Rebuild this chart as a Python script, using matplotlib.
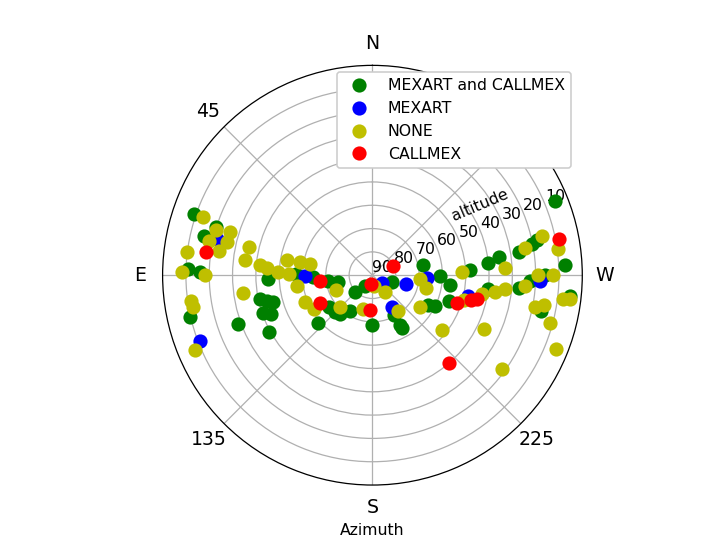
import numpy as np
import matplotlib
matplotlib.use("Agg")
import matplotlib.pyplot as plt

# azimuth (deg) and altitude (deg) of each source, grouped by detection
green_az = [71, 77, 73, 88, 89, 92, 102, 104, 105, 109, 111, 110, 119, 103, 89, 92, 97, 101,
            133, 144, 251, 126, 135, 140, 148, 131, 179, 208, 209, 209, 281, 269, 263, 273,
            276, 278, 242, 244, 251, 263, 292, 282, 281, 279, 273, 270, 265, 268, 264, 258]
green_alt = [9, 16, 20, 11, 16, 45, 40.5, 43.5, 46, 40.5, 43.5, 28.5, 39.5, 9.5, 57, 64.5, 71, 75,
             79.5, 84.5, 81, 67, 67.5, 68.5, 72, 59, 68.5, 70.5, 65.5, 64, 68, 61, 56.5, 48,
             40, 35, 63, 60, 55.5, 40, 5.5, 18, 20.5, 26.5, 7.5, 16, 27, 22.5, 5, 16]

blue_az = [77, 111, 91, 231, 256, 267, 211, 258, 268]
blue_alt = [21.5, 11, 61, 85, 75, 66.5, 74, 48, 18]

yellow_az = [71, 74, 73, 78, 77, 81, 83, 77, 83, 89, 90, 85, 86, 88, 80, 80, 80, 89, 98, 98,
             100, 113, 98, 112, 186, 217, 265, 257, 112, 120, 135, 165, 215, 272, 273, 236,
             255, 260, 262, 264, 232, 244, 234, 278, 283, 280, 270, 270, 266, 263, 263, 259,
             260, 255, 248]
yellow_alt = [13, 20, 26, 18.5, 26, 23.5, 10, 35.5, 35, 8.5, 18, 41.5, 44.5, 49.5, 53, 58.5, 63,
              54, 34, 11.5, 12, 7.5, 57.5, 73, 85.5, 81, 69.5, 66.5, 59, 61, 70.5, 75, 71, 51.5,
              33, 65.5, 49.5, 42.5, 37, 33, 52, 37, 21.5, 9.5, 15.5, 23.5, 19, 12.5, 24.5, 7.5,
              4.5, 19, 15.5, 11, 5]

red_az = [82, 96, 118, 172, 176, 295, 252, 256, 257, 221, 281]
red_alt = [18, 67.5, 64.5, 86, 75, 80.5, 52, 46.5, 44, 40, 8.5]

groups = [
    (green_az, green_alt, "g", "MEXART and CALLMEX"),
    (blue_az, blue_alt, "b", "MEXART"),
    (yellow_az, yellow_alt, "y", "NONE"),
    (red_az, red_alt, "r", "CALLMEX"),
]

fig = plt.figure(figsize=(6.4, 4.8), dpi=113.55)
ax = fig.add_subplot(111, projection="polar")
ax.set_theta_zero_location("N")

for az, alt, col, lab in groups:
    ax.plot(np.radians(az), 90 - np.array(alt), "o", color=col, ms=8, label=lab, zorder=3)

ax.set_ylim(0, 90)
ax.set_yticks(range(0, 90, 10))
ax.set_yticklabels([str(90 - r) for r in range(0, 90, 10)])
ax.set_rlabel_position(292.5)
ax.set_xticks(np.radians(range(0, 360, 45)))
ax.set_xticklabels(["N", "45", "E", "135", "S", "225", "W", ""], fontsize=12)
ax.text(np.radians(303), 55, "altitude", rotation=23, ha="center", va="center")
ax.set_xlabel("Azimuth")

ax.legend(loc="upper left", bbox_to_anchor=(337 / 726, 1 - 72 / 545),
          bbox_transform=fig.transFigure, borderaxespad=0, framealpha=1)

fig.savefig("out.png")
